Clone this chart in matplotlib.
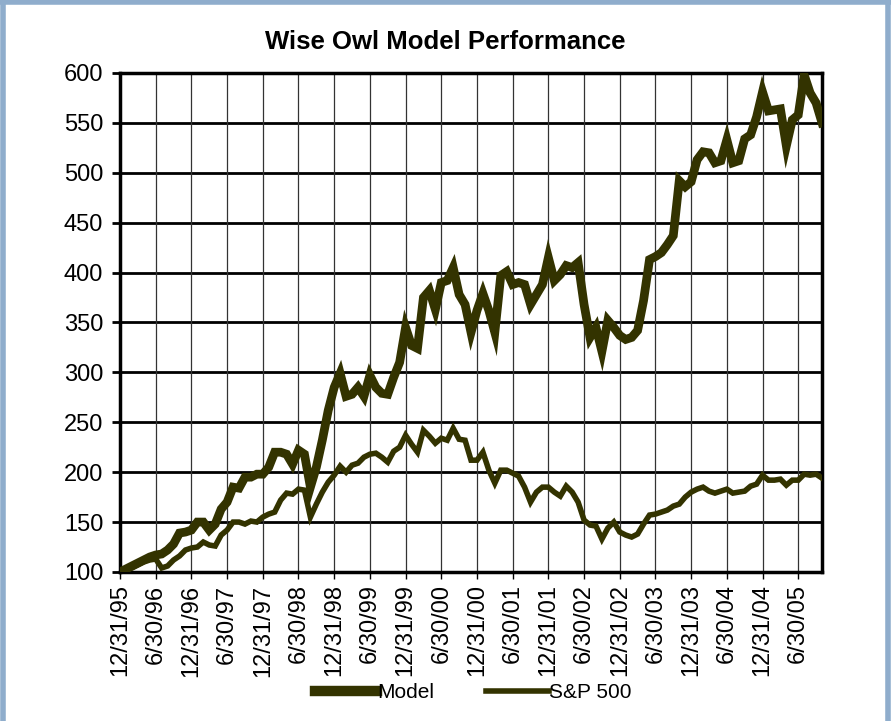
import matplotlib
matplotlib.use("Agg")
import matplotlib.pyplot as plt
from matplotlib.lines import Line2D

# month-end values, 12/95 .. 10/05 (index 0 = 12/31/95)
model = [100, 103, 106, 109, 112, 115, 117, 118, 122, 128,
         139, 140, 142, 150, 150, 142, 148, 163, 170, 185,
         184, 195, 195, 198, 198, 205, 220, 220, 218, 208,
         222, 218, 185, 205, 232, 262, 285, 299, 276, 278,
         285, 276, 297, 285, 279, 278, 295, 310, 345, 327,
         324, 375, 382, 363, 390, 392, 405, 378, 368, 340,
         362, 379, 362, 340, 397, 401, 388, 390, 388, 368,
         378, 388, 415, 392, 398, 407, 405, 410, 368, 335,
         345, 321, 352, 345, 337, 333, 335, 342, 372, 413,
         416, 420, 428, 437, 492, 486, 491, 513, 521, 520,
         510, 512, 533, 510, 512, 534, 538, 556, 581, 562,
         563, 564, 527, 553, 558, 598, 580, 570, 550]
sp500 = [100, 102, 104, 107, 110, 112, 113, 104, 106, 112,
         116, 122, 124, 125, 130, 127, 126, 137, 142, 150,
         150, 148, 151, 150, 155, 158, 160, 172, 179, 178,
         183, 182, 155, 168, 180, 190, 197, 206, 200, 207,
         209, 215, 218, 219, 215, 210, 221, 225, 237, 228,
         220, 242, 236, 229, 234, 232, 244, 233, 232, 212,
         212, 220, 202, 189, 202, 202, 199, 196, 185, 170,
         180, 185, 185, 180, 176, 186, 180, 170, 152, 147,
         146, 133, 144, 150, 140, 137, 135, 138, 148, 157,
         158, 160, 162, 166, 168, 175, 180, 183, 185, 181,
         179, 181, 183, 179, 180, 181, 186, 188, 197, 192,
         192, 193, 187, 192, 192, 198, 197, 198, 194]
tick_labels = ["12/31/95", "6/30/96", "12/31/96", "6/30/97", "12/31/97",
               "6/30/98", "12/31/98", "6/30/99", "12/31/99", "6/30/00",
               "12/31/00", "6/30/01", "12/31/01", "6/30/02", "12/31/02",
               "6/30/03", "12/31/03", "6/30/04", "12/31/04", "6/30/05"]

plt.rcParams["font.family"] = ["Liberation Sans", "DejaVu Sans"]
LINE_COLOR = "#333300"

fig = plt.figure(figsize=(8.91, 7.21), dpi=100)
ax = fig.add_axes([0.1347, 0.2067, 0.7879, 0.6921])

months = list(range(len(model)))
ax.plot(months, model, color=LINE_COLOR, lw=6.3, solid_joinstyle="miter", zorder=3)
ax.plot(months, sp500, color=LINE_COLOR, lw=4.0, solid_joinstyle="miter", zorder=3)

ax.set_xlim(0, len(model) - 1)
ax.set_ylim(100, 600)
ax.set_yticks(range(100, 601, 50))
ax.set_xticks(range(0, 6 * len(tick_labels), 6))
ax.set_xticklabels(tick_labels, rotation=90, fontsize=17)
ax.tick_params(axis="y", labelsize=17, length=6, width=2, direction="out", pad=6)
ax.tick_params(axis="x", length=5, width=1, direction="out", pad=4)

for v in range(150, 600, 50):
    ax.axhline(v, color="black", lw=2, zorder=1)
for t in range(6, len(model), 6):
    ax.axvline(t, color="#333333", lw=0.9, zorder=1)
for s in ax.spines.values():
    s.set_linewidth(2.5)

fig.text(0.5, 0.942, "Wise Owl Model Performance", fontsize=18.5,
         fontweight="bold", ha="center", va="center")

handles = [Line2D([], [], color=LINE_COLOR, lw=7.5),
           Line2D([], [], color=LINE_COLOR, lw=4)]
fig.legend(handles, ["Model", "S&P 500"], loc="center", bbox_to_anchor=(0.531, 0.039),
           ncol=2, frameon=False, fontsize=15, handlelength=3.0,
           handletextpad=0.0, columnspacing=2.5)

# light blue frame around the figure
frame = "#8fadcc"
fig.add_artist(Line2D([0.003, 0.003], [0, 1], color=frame, lw=4, transform=fig.transFigure))
fig.add_artist(Line2D([0.997, 0.997], [0, 1], color=frame, lw=4, transform=fig.transFigure))
fig.add_artist(Line2D([0, 1], [0.997, 0.997], color=frame, lw=4, transform=fig.transFigure))

fig.savefig("out.png", dpi=100)
